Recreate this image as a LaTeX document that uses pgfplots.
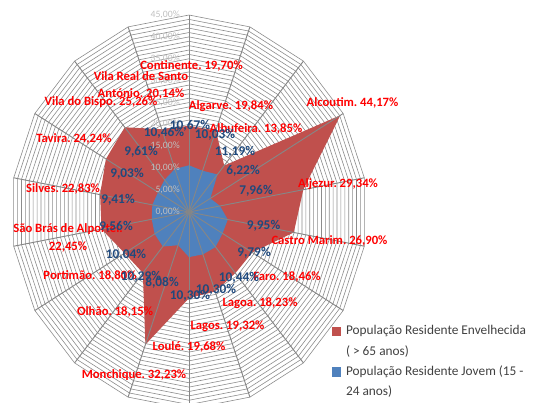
\documentclass[border=0pt]{standalone}
\usepackage{fontspec}
\setmainfont{Carlito}
\usepackage{pgfplots}
\usepackage{pgfplotstable}
\pgfplotsset{compat=1.18}
\frenchspacing

\definecolor{oldred}{RGB}{192,80,77}
\definecolor{youngblue}{RGB}{79,129,189}
\definecolor{lblblue}{RGB}{31,73,125}
\definecolor{gridgray}{RGB}{134,134,134}
\definecolor{ringgray}{RGB}{140,140,140}
\definecolor{ticklbl}{RGB}{191,191,191}
\definecolor{legtext}{RGB}{64,64,64}

% angle (clockwise from top), ageing population (>65), young population (15-24)
\pgfplotstableread{
a   old    young
0   19.70  10.67
20  19.84  10.03
40  13.85  11.19
60  44.17  6.22
80  29.34  7.96
100 26.90  9.95
120 18.46  9.79
140 18.23  10.44
160 19.32  10.30
180 19.68  10.30
200 32.23  8.08
220 18.15  10.29
240 18.80  10.04
260 22.45  9.56
280 22.83  9.41
300 24.24  9.03
320 25.26  9.61
340 20.14  10.46
360 19.70  10.67
}\radar

\pgfplotstableread{
r  s
0  0
45 0
}\spoke

\begin{document}
\begin{tikzpicture}
\useasboundingbox (0pt,0pt) rectangle (404.25pt,-302.25pt);
\begin{axis}[
  at={(0pt,0pt)}, anchor=north west,
  scale only axis, width=404.25pt, height=302.25pt,
  xmin=-47.78, xmax=88.48, ymin=-43.63, ymax=48.43,
  axis lines=none, clip=true,
  legend cell align=left,
  legend image code/.code={\fill[#1] (0pt,-3.4pt) rectangle (6.8pt,3.4pt);},
  legend style={at={(0.616,0.1948)}, anchor=north west, draw=none, fill=none,
    inner sep=0pt, row sep=5.2pt, column sep=3.5pt,
    font=\fontsize{10}{12}\selectfont,
    nodes={inner sep=0pt, text height=7.5pt, text depth=2.5pt, text=legtext}},
]
\pgfplotsinvokeforeach{1,...,45}{
  \addplot[forget plot, draw=ringgray, line width=0.45pt]
    table[x expr={#1*sin(\thisrow{a})}, y expr={#1*cos(\thisrow{a})}] {\radar};
}
\addplot[fill=oldred, draw=none]
  table[x expr={\thisrow{old}*sin(\thisrow{a})}, y expr={\thisrow{old}*cos(\thisrow{a})}] {\radar};
\addlegendentry{População Residente Envelhecida}
\addlegendimage{empty legend}
\addlegendentry{( > 65 anos)}
\addplot[fill=youngblue, draw=none]
  table[x expr={\thisrow{young}*sin(\thisrow{a})}, y expr={\thisrow{young}*cos(\thisrow{a})}] {\radar};
\addlegendentry{População Residente Jovem (15 -}
\addlegendimage{empty legend}
\addlegendentry{24 anos)}
\pgfplotsinvokeforeach{0,20,...,340}{
  \addplot[forget plot, draw=gridgray, line width=0.7pt]
    table[x expr={\thisrow{r}*sin(#1)}, y expr={\thisrow{r}*cos(#1)}] {\spoke};
}
\end{axis}

\begin{scope}[x=0.75pt, y=-0.75pt,
  tick/.style={text=ticklbl, font=\fontsize{7.3}{9}\selectfont, inner sep=0pt, anchor=east},
  rl/.style={text=red, font=\fontsize{9.5}{13}\selectfont\bfseries, inner sep=0pt, align=center},
  bl/.style={text=lblblue, font=\fontsize{10}{12}\selectfont\bfseries, inner sep=0pt}]
% radial tick labels
\node[tick] at (180,211.7) {0,00\%};
\node[tick] at (180,189.8) {5,00\%};
\node[tick] at (180,168.0) {10,00\%};
\node[tick] at (180,146.1) {15,00\%};
\node[tick] at (180,124.3) {20,00\%};
\node[tick] at (180,102.4) {25,00\%};
\node[tick] at (180,80.6) {30,00\%};
\node[tick] at (180,58.7) {35,00\%};
\node[tick] at (180,36.9) {40,00\%};
\node[tick] at (180,15.0) {45,00\%};
% red labels
\node[rl] at (191.5,66) {Continente. 19,70\%};
\node[rl] at (141,85.5) {Vila Real de Santo\\António. 20,14\%};
\node[rl] at (231,106) {Algarve. 19,84\%};
\node[rl] at (256,129) {Albufeira. 13,85\%};
\node[rl] at (352.5,103.3) {Alcoutim. 44,17\%};
\node[rl] at (338,184) {Aljezur. 29,34\%};
\node[rl] at (329.5,240.5) {Castro Marim. 26,90\%};
\node[rl] at (287,276.5) {Faro. 18,46\%};
\node[rl] at (260,303) {Lagoa. 18,23\%};
\node[rl] at (227.5,326.7) {Lagos. 19,32\%};
\node[rl] at (189,347.3) {Loulé. 19,68\%};
\node[rl] at (134,375) {Monchique. 32,23\%};
\node[rl] at (115,312) {Olhão. 18,15\%};
\node[rl] at (90,276) {Portimão. 18,80\%};
\node[rl] at (68,238) {São Brás de Alportel.\\22,45\%};
\node[rl] at (63,189) {Silves. 22,83\%};
\node[rl] at (74,139) {Tavira. 24,24\%};
\node[rl] at (101,102.5) {Vila do Bispo. 25,26\%};
% blue labels
\node[bl] at (190,126) {10,67\%};
\node[bl] at (215,135) {10,03\%};
\node[bl] at (235,151.7) {11,19\%};
\node[bl] at (243,170.7) {6,22\%};
\node[bl] at (256,190.7) {7,96\%};
\node[bl] at (263.5,226) {9,95\%};
\node[bl] at (254,253) {9,79\%};
\node[bl] at (239,278) {10,44\%};
\node[bl] at (216,290) {10,30\%};
\node[bl] at (190,296) {10,30\%};
\node[bl] at (162,283) {8,08\%};
\node[bl] at (141,277) {10,29\%};
\node[bl] at (126,255) {10,04\%};
\node[bl] at (116,226.7) {9,56\%};
\node[bl] at (118,200) {9,41\%};
\node[bl] at (127,174) {9,03\%};
\node[bl] at (141,151.7) {9,61\%};
\node[bl] at (164,133) {10,46\%};
\end{scope}
\end{tikzpicture}
\end{document}
